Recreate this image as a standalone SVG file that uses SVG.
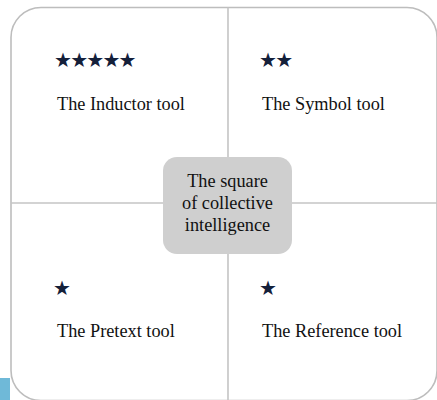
<svg xmlns="http://www.w3.org/2000/svg" width="437" height="400" viewBox="0 0 437 400">
<style>
.lbl{font-family:"Liberation Serif","Times New Roman",serif;font-size:18.3px;fill:#111}
.star{font-family:"DejaVu Sans",sans-serif;font-size:20px;letter-spacing:-1.8px;fill:#14203a}
.ln{stroke:#c4c4c4;stroke-width:1.6;fill:none}
</style>
<rect x="0" y="378" width="10" height="22" fill="#6fb9d8"/>
<rect id="frame" x="11" y="7.5" width="426" height="393" rx="30" ry="30" fill="#fff" stroke="#bdbdbd" stroke-width="1.6"/>
<g id="connectors">
<line class="ln" x1="228" y1="7.5" x2="228" y2="400"/>
<line class="ln" x1="11" y1="203" x2="437" y2="203"/>
</g>
<g id="inductor">
<text class="star" x="54" y="67">★★★★★</text>
<text class="lbl" x="57" y="110">The Inductor tool</text>
</g>
<g id="symbol">
<text class="star" x="259" y="67">★★</text>
<text class="lbl" x="262" y="110">The Symbol tool</text>
</g>
<g id="pretext">
<text class="star" x="53" y="295">★</text>
<text class="lbl" x="57" y="337">The Pretext tool</text>
</g>
<g id="reference">
<text class="star" x="259" y="295">★</text>
<text class="lbl" x="262" y="337">The Reference tool</text>
</g>
<g id="center">
<rect x="163" y="157" width="129" height="97" rx="14" ry="14" fill="#cfcfcf"/>
<text class="lbl" text-anchor="middle" x="227.5" y="187">The square</text>
<text class="lbl" text-anchor="middle" x="227.5" y="209">of collective</text>
<text class="lbl" text-anchor="middle" x="227.5" y="231">intelligence</text>
</g>
</svg>
